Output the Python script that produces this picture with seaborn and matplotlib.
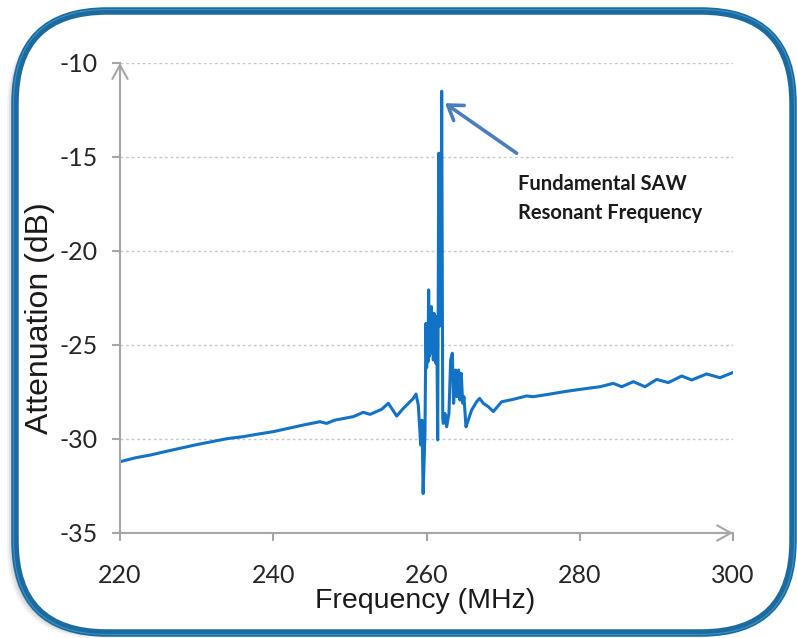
import matplotlib
matplotlib.use("Agg")
import matplotlib.pyplot as plt
import pandas as pd
import seaborn as sns
from matplotlib.patches import FancyBboxPatch
from matplotlib.transforms import IdentityTransform

# Measured transmission response of the SAW device
freq_mhz = [
    220.0, 222.0, 224.0, 226.0, 228.0, 230.0, 232.0, 234.0, 236.0, 238.0,
    240.0, 242.0, 244.0, 246.1, 246.97, 248.0, 250.45, 251.75, 252.63, 254.15,
    255.02, 256.11, 256.98, 258.28, 258.63, 258.93, 259.24, 259.42, 259.56, 259.80,
    259.93, 260.02, 260.10, 260.19, 260.28, 260.37, 260.46, 260.55, 260.63, 260.72,
    260.80, 260.89, 260.98, 261.06, 261.15, 261.24, 261.33, 261.46,
    261.60, 261.70, 261.80, 261.90, 261.98, 262.05, 262.12, 262.19, 262.41, 262.63,
    262.93, 263.15, 263.37, 263.54, 263.80, 263.97, 264.19, 264.37, 264.54, 264.72,
    264.89, 265.15, 265.45, 265.89, 266.54, 266.93, 267.41, 268.06, 268.72, 269.80,
    271.32, 273.06, 273.93, 276.11, 278.0, 280.03, 282.64, 284.38, 285.47, 286.99,
    288.52, 290.04, 291.56, 293.30, 294.61, 296.56, 298.30, 299.95,
]
attenuation_db = [
    -31.21, -31.00, -30.85, -30.66, -30.48, -30.30, -30.14, -29.98, -29.88, -29.74,
    -29.61, -29.43, -29.25, -29.08, -29.17, -29.00, -28.81, -28.58, -28.69, -28.42,
    -28.10, -28.78, -28.37, -27.84, -27.61, -28.19, -30.32, -29.00, -32.90, -29.70,
    -23.85, -26.20, -24.10, -25.90, -22.07, -25.60, -23.00, -25.44, -22.96, -25.30,
    -23.40, -25.80, -23.31, -25.70, -23.60, -25.98, -23.49, -30.05,
    -14.80, -24.00, -14.90, -21.00, -11.50, -20.00, -28.90, -29.17, -28.64, -29.35,
    -28.64, -25.80, -25.44, -28.10, -26.33, -27.75, -26.33, -27.93, -26.51, -28.10,
    -27.75, -29.35, -28.99, -28.46, -28.02, -27.84, -28.10, -28.28, -28.54, -28.02,
    -27.89, -27.71, -27.75, -27.61, -27.48, -27.36, -27.22, -27.04, -27.22, -26.95,
    -27.22, -26.83, -27.00, -26.65, -26.86, -26.54, -26.74, -26.47,
]

x_ticks = [220, 240, 260, 280, 300]
y_ticks = [-35, -30, -25, -20, -15, -10]
x_label = "Frequency (MHz)"
y_label = "Attenuation (dB)"
note_text = "Fundamental SAW\nResonant Frequency"

sns.set_theme(style="white")
plt.rcParams["font.family"] = ["Lato", "DejaVu Sans"]
plt.rcParams["axes.unicode_minus"] = False

W, H, DPI = 797, 638, 100
AXIS_GRAY = "#a6a6a6"
LINE_BLUE = "#1272c6"
LABEL_FONT = ["Liberation Sans", "DejaVu Sans"]

fig = plt.figure(figsize=(W / DPI, H / DPI), dpi=DPI, facecolor="white")
ax = fig.add_axes([120 / W, 105 / H, 613 / W, 470 / H])
ax.set_facecolor("white")

df = pd.DataFrame({"freq": freq_mhz, "atten": attenuation_db})
sns.lineplot(data=df, x="freq", y="atten", ax=ax, color=LINE_BLUE,
             linewidth=2.2, sort=False, estimator=None)

ax.set_xlim(220, 300)
ax.set_ylim(-35, -10)
ax.set_xticks(x_ticks)
ax.set_yticks(y_ticks)

# dotted horizontal gridlines
ax.grid(axis="y", color="#c8c8c8", linestyle=(0, (2, 2)), linewidth=1.0)
ax.grid(axis="x", visible=False)
ax.set_axisbelow(True)

for side in ("top", "right"):
    ax.spines[side].set_visible(False)
for side in ("left", "bottom"):
    ax.spines[side].set_color(AXIS_GRAY)
    ax.spines[side].set_linewidth(1.5)

ax.tick_params(axis="both", bottom=True, left=True, direction="out",
               length=6, width=1.5, color=AXIS_GRAY,
               labelsize=18, labelcolor="#262626")
ax.tick_params(axis="y", pad=10)
ax.tick_params(axis="x", pad=16)

# open arrowheads at the ends of both axes
head = dict(arrowstyle="->,head_length=0.45,head_width=0.25", color=AXIS_GRAY,
            lw=1.5, mutation_scale=22, shrinkA=0, shrinkB=0)
ax.annotate("", xy=(0, 1), xytext=(0, 0.97), xycoords="axes fraction",
            arrowprops=head, annotation_clip=False)
ax.annotate("", xy=(1, 0), xytext=(0.97, 0), xycoords="axes fraction",
            arrowprops=head, annotation_clip=False)

ax.set_xlabel(x_label, fontsize=20.5, color="#1a1a1a", family=LABEL_FONT)
ax.set_ylabel(y_label, fontsize=23, color="#1a1a1a", family=LABEL_FONT)
ax.xaxis.set_label_coords(0.4976, -0.1450)
ax.xaxis.label.set_verticalalignment("center")
ax.yaxis.set_label_coords(-0.130, 0.457)
ax.yaxis.label.set_verticalalignment("center")

# callout for the resonance peak
ax.annotate("", xy=(262.41, -12.14), xytext=(271.77, -14.80),
            arrowprops=dict(arrowstyle="->,head_length=0.45,head_width=0.3",
                            color="#4a7ebb", lw=2.6, mutation_scale=22,
                            shrinkA=0, shrinkB=0))
ax.text(271.94, -15.90, note_text, fontsize=14.5, fontweight="bold",
        ha="left", va="top", linespacing=1.55, color="#1a1a1a")


# rounded frame around the whole chart, drawn in pixel units
def frame(x0, y0, w, h, r, **kw):
    return FancyBboxPatch((x0, y0), w, h,
                          boxstyle=f"round,pad=0,rounding_size={r}",
                          transform=IdentityTransform(), **kw)


# soft drop shadow toward the lower left, then the white card, then the rim
for off, a in ((8, 0.05), (6, 0.07), (4, 0.09)):
    fig.add_artist(frame(15 - off, 5 - off * 0.6, 778, 622, 92,
                         facecolor="#000000", edgecolor="none",
                         alpha=a, zorder=-3))
fig.add_artist(frame(15, 5, 778, 622, 92, facecolor="white",
                     edgecolor="none", zorder=-2))
fig.add_artist(frame(15, 5, 778, 622, 92, fill=False, edgecolor="#1c6ba0",
                     linewidth=5.4, zorder=1))
fig.add_artist(frame(13.5, 3.5, 781, 625, 93.5, fill=False,
                     edgecolor="#4fa9dc", linewidth=0.8, alpha=0.6, zorder=1))

fig.savefig("out.png", dpi=DPI, facecolor="white")
